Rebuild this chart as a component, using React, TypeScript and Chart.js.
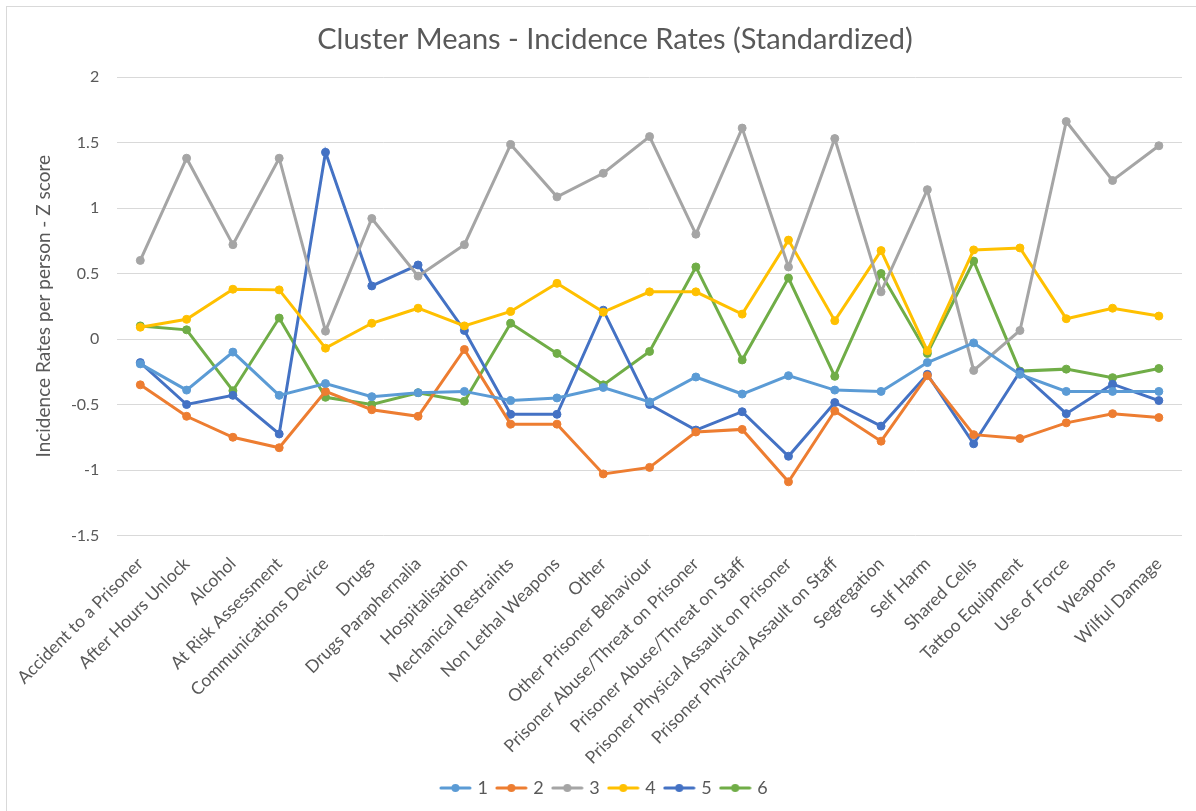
import React, { useEffect, useRef } from "react";
import { Chart, registerables } from "chart.js";

Chart.register(...registerables);

const categories = [
  "Accident to a Prisoner",
  "After Hours Unlock",
  "Alcohol",
  "At Risk Assessment",
  "Communications Device",
  "Drugs",
  "Drugs Paraphernalia",
  "Hospitalisation",
  "Mechanical Restraints",
  "Non Lethal Weapons",
  "Other",
  "Other Prisoner Behaviour",
  "Prisoner Abuse/Threat on Prisoner",
  "Prisoner Abuse/Threat on Staff",
  "Prisoner Physical Assault on Prisoner",
  "Prisoner Physical Assault on Staff",
  "Segregation",
  "Self Harm",
  "Shared Cells",
  "Tattoo Equipment",
  "Use of Force",
  "Weapons",
  "Wilful Damage",
];

const cluster1 = [-0.19, -0.39, -0.10, -0.43, -0.34, -0.44, -0.41, -0.40, -0.47, -0.45, -0.37, -0.48, -0.29, -0.42, -0.28, -0.39, -0.40, -0.18, -0.03, -0.27, -0.40, -0.40, -0.40];
const cluster2 = [-0.35, -0.59, -0.75, -0.83, -0.40, -0.54, -0.59, -0.08, -0.65, -0.65, -1.03, -0.98, -0.71, -0.69, -1.09, -0.55, -0.78, -0.28, -0.73, -0.76, -0.64, -0.57, -0.60];
const cluster3 = [0.60, 1.38, 0.72, 1.38, 0.06, 0.92, 0.48, 0.72, 1.485, 1.085, 1.265, 1.545, 0.80, 1.61, 0.55, 1.53, 0.36, 1.14, -0.24, 0.065, 1.66, 1.21, 1.475];
const cluster4 = [0.09, 0.15, 0.38, 0.375, -0.07, 0.12, 0.235, 0.10, 0.21, 0.425, 0.205, 0.36, 0.36, 0.19, 0.755, 0.14, 0.675, -0.09, 0.68, 0.695, 0.155, 0.235, 0.175];
const cluster5 = [-0.18, -0.50, -0.43, -0.725, 1.425, 0.405, 0.565, 0.065, -0.575, -0.575, 0.22, -0.50, -0.695, -0.555, -0.895, -0.485, -0.665, -0.27, -0.80, -0.25, -0.57, -0.345, -0.47];
const cluster6 = [0.10, 0.07, -0.395, 0.16, -0.445, -0.50, -0.41, -0.475, 0.12, -0.11, -0.35, -0.095, 0.55, -0.16, 0.465, -0.285, 0.50, -0.11, 0.595, -0.245, -0.23, -0.295, -0.225];

const seriesLabels = ["1", "2", "3", "4", "5", "6"];
const seriesData = [cluster1, cluster2, cluster3, cluster4, cluster5, cluster6];
const seriesColors = ["#5B9BD5", "#ED7D31", "#A5A5A5", "#FFC000", "#4472C4", "#70AD47"];

const TITLE = "Cluster Means - Incidence Rates (Standardized)";
const FONT = "Lato, 'Open Sans', sans-serif";
const TEXT = "#595959";

function legendSymbol(color: string): HTMLCanvasElement {
  const c = document.createElement("canvas");
  c.width = 33;
  c.height = 10;
  const ctx = c.getContext("2d")!;
  ctx.strokeStyle = color;
  ctx.lineWidth = 3;
  ctx.lineCap = "round";
  ctx.beginPath();
  ctx.moveTo(2, 5);
  ctx.lineTo(31, 5);
  ctx.stroke();
  ctx.fillStyle = color;
  ctx.beginPath();
  ctx.arc(16.5, 5, 4, 0, Math.PI * 2);
  ctx.fill();
  return c;
}

const titlePlugin = {
  id: "offsetTitle",
  afterDraw(chart: any) {
    const ctx = chart.ctx;
    ctx.save();
    ctx.fillStyle = TEXT;
    ctx.font = `29px ${FONT}`;
    ctx.textAlign = "center";
    ctx.textBaseline = "middle";
    ctx.fillText(TITLE, 615, 40);
    ctx.restore();
  },
};

export default function App() {
  const ref = useRef<HTMLCanvasElement | null>(null);

  useEffect(() => {
    if (!ref.current) return;
    const symbols = seriesColors.map(legendSymbol);
    const chart = new Chart(ref.current, {
      type: "line",
      data: {
        labels: categories,
        datasets: seriesData.map((d, i) => ({
          label: seriesLabels[i],
          data: d,
          borderColor: seriesColors[i],
          backgroundColor: seriesColors[i],
          borderWidth: 3,
          pointRadius: 4,
          pointHoverRadius: 4,
          pointBorderWidth: 1,
          tension: 0,
          fill: false,
        })),
      },
      plugins: [titlePlugin],
      options: {
        responsive: false,
        animation: false,
        events: [],
        layout: { padding: { left: 28, right: 14, top: 77, bottom: 4 } },
        plugins: {
          title: { display: false },
          legend: {
            display: true,
            position: "bottom",
            labels: {
              color: TEXT,
              font: { family: FONT, size: 18 },
              usePointStyle: true,
              pointStyleWidth: 26,
              boxHeight: 10,
              padding: 10.5,
              generateLabels: (ch: any) => {
                const items = Chart.defaults.plugins.legend.labels.generateLabels(ch);
                return items.map((it: any, i: number) => ({ ...it, pointStyle: symbols[i] }));
              },
            },
          },
          tooltip: { enabled: false },
        },
        scales: {
          x: {
            offset: true,
            grid: { display: false, drawTicks: false },
            border: { display: false },
            ticks: {
              color: TEXT,
              font: { family: FONT, size: 17.5 },
              maxRotation: 45,
              minRotation: 45,
              autoSkip: false,
              padding: 18,
            },
            afterFit: (s: any) => {
              s.height = 233;
            },
          },
          y: {
            min: -1.5,
            max: 2,
            grid: { color: "#D9D9D9", lineWidth: 1, drawTicks: false },
            border: { display: false },
            ticks: {
              stepSize: 0.5,
              color: TEXT,
              font: { family: FONT, size: 16 },
              padding: 18,
              callback: (v: any) => String(Number(v)),
            },
            title: {
              display: true,
              text: "Incidence Rates per person - Z score",
              color: TEXT,
              font: { family: FONT, size: 19, weight: "normal" },
              padding: { top: 3, bottom: 0 },
            },
            afterFit: (s: any) => {
              s.width = 88;
            },
          },
        },
      },
    });
    return () => chart.destroy();
  }, []);

  return (
    <div style={{ position: "absolute", left: 0, top: 0, width: 1196, height: 811, background: "#fff" }}>
      <div
        style={{
          position: "absolute",
          left: 6,
          top: 6,
          right: 0,
          bottom: 0,
          borderLeft: "1px solid #D9D9D9",
          borderTop: "1px solid #D9D9D9",
        }}
      />
      <canvas ref={ref} width={1196} height={811} style={{ position: "absolute", left: 0, top: 0, display: "block" }} />
    </div>
  );
}
